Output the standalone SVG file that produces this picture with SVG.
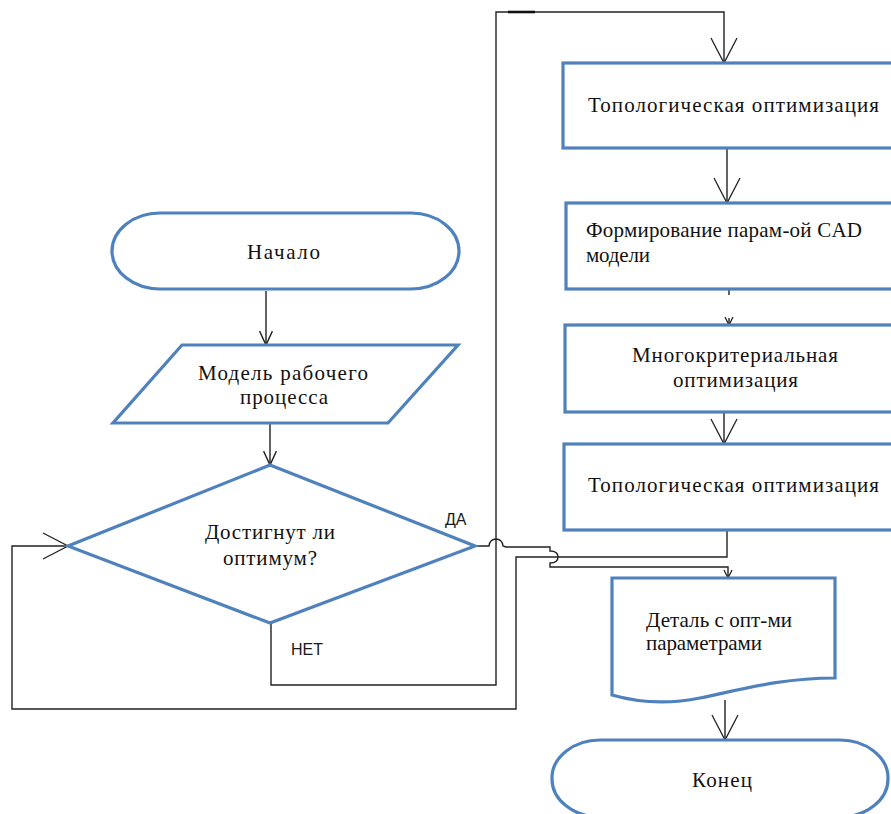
<svg xmlns="http://www.w3.org/2000/svg" width="891" height="814" viewBox="0 0 891 814">
<style>
.node{fill:#fff;stroke:#4F81BD;stroke-width:3.2;stroke-linejoin:miter}
.t{font-family:"Liberation Serif","Times New Roman",serif;font-size:21px;fill:#111}
.lbl{font-family:"Liberation Sans",Arial,sans-serif;font-size:16px;fill:#1a1a1a}
.c{fill:none;stroke:#222;stroke-width:1.4}
</style>
<defs>
<marker id="big" markerUnits="userSpaceOnUse" orient="auto" markerWidth="30" markerHeight="30" refX="0" refY="0" viewBox="-26 -15 28 30" overflow="visible">
<path d="M-25,-13 L0,0 L-25,13" fill="none" stroke="#222" stroke-width="1.3"/>
</marker>
<marker id="small" markerUnits="userSpaceOnUse" orient="auto" markerWidth="16" markerHeight="16" refX="0" refY="0" viewBox="-14 -7 15 14" overflow="visible">
<path d="M-13,-6 L0,0 L-13,6" fill="none" stroke="#222" stroke-width="1.3"/>
</marker>
<marker id="tiny" markerUnits="userSpaceOnUse" orient="auto" markerWidth="10" markerHeight="10" refX="0" refY="0" viewBox="-9 -5 10 10" overflow="visible">
<path d="M-8,-4 L0,0 L-8,4" fill="none" stroke="#222" stroke-width="1.3"/>
</marker>
</defs>

<g id="connectors">
<path class="c" d="M266,291 V345" marker-end="url(#small)"/>
<path class="c" d="M270,424 V465" marker-end="url(#small)"/>
<path class="c" d="M271,623 V685 H496 V12 H724 V63" marker-end="url(#big)"/>
<path d="M508,12 H535" stroke="#111" stroke-width="2.6"/>
<path class="c" d="M727,148 V203" marker-end="url(#big)"/>
<path class="c" d="M729,290 V295"/>
<path class="c" d="M729,318 V325" marker-end="url(#tiny)"/>
<path class="c" d="M724,412 V444" marker-end="url(#big)"/>
<path class="c" d="M727,530 V557 H516 V709 H12 V546 H68" marker-end="url(#big)"/>
<path class="c" d="M476,546 H489 Q490,539 496,539 Q502,539 503,546 L506,547 H550 V551 Q558,551 558,557 Q558,563 550,563 V567 H728 V578" marker-end="url(#tiny)"/>
</g>

<g id="start">
<rect class="node" x="112" y="213" width="347" height="76" rx="48" ry="38"/>
<text class="t" x="283.5" y="259" text-anchor="middle" textLength="73" lengthAdjust="spacing">Начало</text>
</g>

<g id="model">
<polygon class="node" points="182,345 458,345 388,423 113,423"/>
<text class="t" x="283" y="380" text-anchor="middle" textLength="170" lengthAdjust="spacing">Модель рабочего</text>
<text class="t" x="284" y="404" text-anchor="middle" textLength="88" lengthAdjust="spacing">процесса</text>
</g>

<g id="decision">
<polygon class="node" points="270,465 475,546 270,623 68,546"/>
<text class="t" x="270" y="539" text-anchor="middle" textLength="130" lengthAdjust="spacing">Достигнут ли</text>
<text class="t" x="270" y="565" text-anchor="middle" textLength="94" lengthAdjust="spacing">оптимум?</text>
<text class="lbl" x="445" y="525">ДА</text>
<text class="lbl" x="291" y="655">НЕТ</text>
</g>

<g id="topo1">
<rect class="node" x="563" y="63" width="340" height="85"/>
<text class="t" x="588" y="112" textLength="291" lengthAdjust="spacing">Топологическая оптимизация</text>
</g>

<g id="cad">
<rect class="node" x="566" y="203" width="340" height="86"/>
<text class="t" x="586" y="237" textLength="276" lengthAdjust="spacing">Формирование парам-ой CAD</text>
<text class="t" x="586" y="262" textLength="64" lengthAdjust="spacing">модели</text>
</g>

<g id="multi">
<rect class="node" x="565" y="325" width="340" height="87"/>
<text class="t" x="735" y="362" text-anchor="middle" textLength="206" lengthAdjust="spacing">Многокритериальная</text>
<text class="t" x="735.5" y="387" text-anchor="middle" textLength="125" lengthAdjust="spacing">оптимизация</text>
</g>

<g id="topo2">
<rect class="node" x="564" y="444" width="340" height="86"/>
<text class="t" x="588" y="492" textLength="291" lengthAdjust="spacing">Топологическая оптимизация</text>
</g>

<g id="result">
<path class="node" d="M612,578 H835 V678 C780,678 740,690 700,698 C670,704 640,703 612,695 Z"/>
<text class="t" x="646" y="627" textLength="146" lengthAdjust="spacing">Деталь с опт-ми</text>
<text class="t" x="646" y="650" textLength="116" lengthAdjust="spacing">параметрами</text>
</g>

<g id="end">
<path class="c" d="M725,700 V740" marker-end="url(#big)"/>
<rect class="node" x="552" y="740" width="336" height="77" rx="48" ry="38"/>
<text class="t" x="722" y="787" text-anchor="middle" textLength="60" lengthAdjust="spacing">Конец</text>
</g>
</svg>
